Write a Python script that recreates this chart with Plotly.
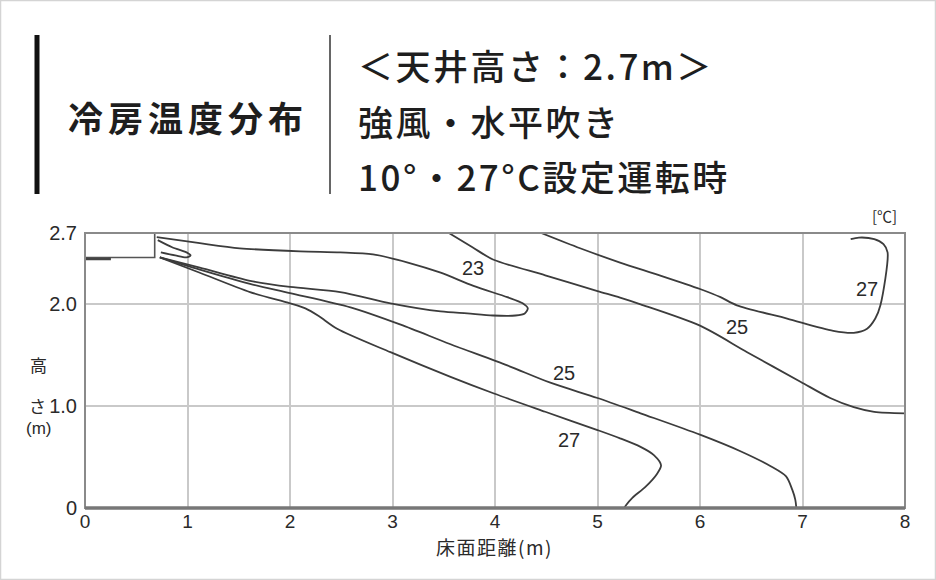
import plotly.graph_objects as go

# ---------------- data ----------------
x_tick_vals = [0, 1, 2, 3, 4, 5, 6, 7, 8]
y_tick_vals = [0, 1.0, 2.0, 2.7]
y_tick_text = ["0", "1.0", "2.0", "2.7"]

# air-conditioner unit (m)
unit_x = [0.0, 0.68]
unit_y = [2.46, 2.70]
louver_x = [0.02, 0.24]
louver_y = 2.445

# 23 °C closed contour
x23 = [0.70, 1.12, 1.51, 2.10, 2.49, 2.81, 3.15, 3.47, 3.79, 4.12, 4.27, 4.32, 4.29, 4.20,
       3.98, 3.73, 3.47, 2.98, 2.49, 2.00, 1.61, 1.12, 0.73]
y23 = [2.66, 2.60, 2.55, 2.52, 2.51, 2.49, 2.41, 2.31, 2.18, 2.07, 2.01, 1.96, 1.91, 1.89,
       1.89, 1.91, 1.93, 2.01, 2.12, 2.17, 2.23, 2.36, 2.46]

# small tongue near the outlet
x_tongue = [0.71, 0.85, 0.99, 1.03, 0.99, 0.88, 0.74]
y_tongue = [2.63, 2.56, 2.51, 2.48, 2.46, 2.48, 2.51]

# 25 °C contour from outlet down to the floor
x25_low = [0.73, 1.12, 1.61, 2.00, 2.59, 3.08, 3.56, 4.12, 4.54, 5.00, 5.42, 6.00, 6.40,
           6.69, 6.84, 6.90, 6.93, 6.94]
y25_low = [2.46, 2.34, 2.20, 2.11, 1.97, 1.80, 1.61, 1.40, 1.23, 1.08, 0.93, 0.72, 0.555,
           0.41, 0.31, 0.18, 0.08, 0.0]

# 27 °C contour from outlet down to the floor
x27_low = [0.73, 1.12, 1.61, 2.00, 2.15, 2.28, 2.46, 2.98, 3.56, 3.99, 4.49, 5.00, 5.22,
           5.42, 5.55, 5.62, 5.58, 5.47, 5.34, 5.28, 5.26]
y27_low = [2.46, 2.31, 2.12, 2.01, 1.96, 1.885, 1.76, 1.53, 1.29, 1.124, 0.945, 0.765, 0.684,
           0.60, 0.52, 0.42, 0.335, 0.21, 0.10, 0.03, 0.0]

# 25 °C contour from the ceiling to the far wall
x25_up = [3.55, 3.78, 3.98, 4.49, 5.00, 5.22, 5.42, 6.00, 6.46, 6.98, 7.27, 7.50, 7.70, 8.00]
y25_up = [2.70, 2.56, 2.44, 2.285, 2.13, 2.065, 2.00, 1.79, 1.53, 1.24, 1.08, 0.99, 0.944, 0.93]

# 27 °C contour near the ceiling at the far wall
x27_up = [4.45, 4.83, 5.22, 5.62, 6.00, 6.20, 6.36, 6.85, 7.30, 7.50, 7.63, 7.71, 7.76,
          7.83, 7.79, 7.70, 7.55, 7.47]
y27_up = [2.70, 2.55, 2.41, 2.28, 2.15, 2.07, 1.99, 1.86, 1.74, 1.72, 1.76, 1.86, 1.99,
          2.51, 2.59, 2.64, 2.655, 2.64]

label_text = ["23", "25", "27", "25", "27"]
label_x = [3.79, 6.36, 7.63, 4.67, 4.72]
label_y = [2.36, 1.775, 2.15, 1.33, 0.67]

# ---------------- layout constants ----------------
W, H = 936, 580
ML, MR, MT, MB = 85, 31, 233, 72
PW = W - ML - MR
PH = H - MT - MB


def px(X):
    return (X - ML) / PW


def py(Y):
    return (H - MB - Y) / PH


def spaced(s, sp):
    return '<span style="letter-spacing:%gpx">%s</span>' % (sp, s)


LINE_COL = "#3c3c3c"
TXT_COL = "#2a2a2a"
CJK = "Noto Sans CJK JP"
NUM = "Liberation Sans"

fig = go.Figure()

# contour lines
for xs, ys in [(x23, y23), (x_tongue, y_tongue), (x25_low, y25_low), (x27_low, y27_low),
               (x25_up, y25_up), (x27_up, y27_up)]:
    fig.add_trace(go.Scatter(x=xs, y=ys, mode="lines",
                             line=dict(color=LINE_COL, width=1.8, shape="spline", smoothing=0.8),
                             hoverinfo="skip", showlegend=False, cliponaxis=True))

# AC unit
fig.add_trace(go.Scatter(
    x=[unit_x[0], unit_x[1], unit_x[1], unit_x[0], unit_x[0]],
    y=[unit_y[0], unit_y[0], unit_y[1], unit_y[1], unit_y[0]],
    mode="lines", fill="toself", fillcolor="white",
    line=dict(color="#555555", width=1.6), hoverinfo="skip", showlegend=False))
fig.add_trace(go.Scatter(
    x=[louver_x[0], louver_x[0], louver_x[1], louver_x[1]],
    y=[unit_y[0], louver_y, louver_y, unit_y[0]],
    mode="lines", line=dict(color="#444444", width=2.6), hoverinfo="skip", showlegend=False))

annotations = []
for t, lx, ly in zip(label_text, label_x, label_y):
    annotations.append(dict(x=lx, y=ly, xref="x", yref="y", text=t, showarrow=False,
                            xanchor="center", yanchor="middle",
                            font=dict(family=NUM, size=20, color=TXT_COL)))


def pnote(X, Y, text, font, xanchor="center"):
    return dict(x=px(X), y=py(Y), xref="paper", yref="paper", text=text, showarrow=False,
                xanchor=xanchor, yanchor="middle", font=font)


# axis titles
annotations += [
    pnote(38, 364, "高", dict(family=CJK, size=17, color=TXT_COL)),
    pnote(37, 405, "さ", dict(family=CJK, size=17, color=TXT_COL)),
    pnote(38, 428, "(m)", dict(family=NUM, size=17, color=TXT_COL)),
    pnote(494, 546, spaced("床面距離(m)", 1.5), dict(family=CJK, size=19, color=TXT_COL)),
    pnote(884, 215, "[℃]", dict(family=CJK, size=15, color=TXT_COL)),
]

# title block
annotations += [
    pnote(66, 117, spaced("冷房温度分布", 5),
          dict(family=CJK, size=35, color="#1e1e1e", weight="bold"), "left"),
    pnote(356, 64, spaced("＜天井高さ：2.7m＞", 2.5),
          dict(family=CJK, size=35, color="#1e1e1e", weight=500), "left"),
    pnote(356, 120, spaced("強風・水平吹き", 2.5),
          dict(family=CJK, size=35, color="#1e1e1e", weight=500), "left"),
    pnote(356, 175, spaced("10°・27°C設定運転時", 2.5),
          dict(family=CJK, size=35, color="#1e1e1e", weight=500), "left"),
]

shapes = [
    # outer border
    dict(type="rect", xref="paper", yref="paper", x0=px(0.5), x1=px(935.5), y0=py(579.5), y1=py(0.5),
         line=dict(color="#d4d4d4", width=1.5), layer="below"),
    # title bars
    dict(type="line", xref="paper", yref="paper", x0=px(37), x1=px(37), y0=py(35), y1=py(194),
         line=dict(color="#111111", width=5)),
    dict(type="line", xref="paper", yref="paper", x0=px(330), x1=px(330), y0=py(35), y1=py(194),
         line=dict(color="#333333", width=1.5)),
    # plot frame
    dict(type="rect", xref="paper", yref="paper", x0=0, x1=1, y0=0, y1=1,
         line=dict(color="#8a8a8a", width=2)),
    dict(type="line", xref="paper", yref="paper", x0=0, x1=1, y0=0, y1=0,
         line=dict(color="#777777", width=3.5)),
]

fig.update_layout(
    width=W, height=H,
    margin=dict(l=ML, r=MR, t=MT, b=MB, pad=0),
    paper_bgcolor="white", plot_bgcolor="white",
    showlegend=False,
    xaxis=dict(range=[0, 8], tickvals=x_tick_vals, ticks="", showgrid=True,
               gridcolor="#c9c9c9", gridwidth=2, zeroline=False, showline=False,
               tickfont=dict(family=NUM, size=19, color=TXT_COL), fixedrange=True),
    yaxis=dict(range=[0, 2.7], tickvals=y_tick_vals, ticktext=y_tick_text, ticks="",
               showgrid=True, gridcolor="#c9c9c9", gridwidth=2, zeroline=False, showline=False,
               tickfont=dict(family=NUM, size=20, color=TXT_COL), fixedrange=True,
               ticklabelstandoff=7),
    annotations=annotations,
    shapes=shapes,
)

fig.write_html("out.html", config={"displayModeBar": False},
               post_script="document.body.style.margin='0';document.body.style.overflow='hidden';")
